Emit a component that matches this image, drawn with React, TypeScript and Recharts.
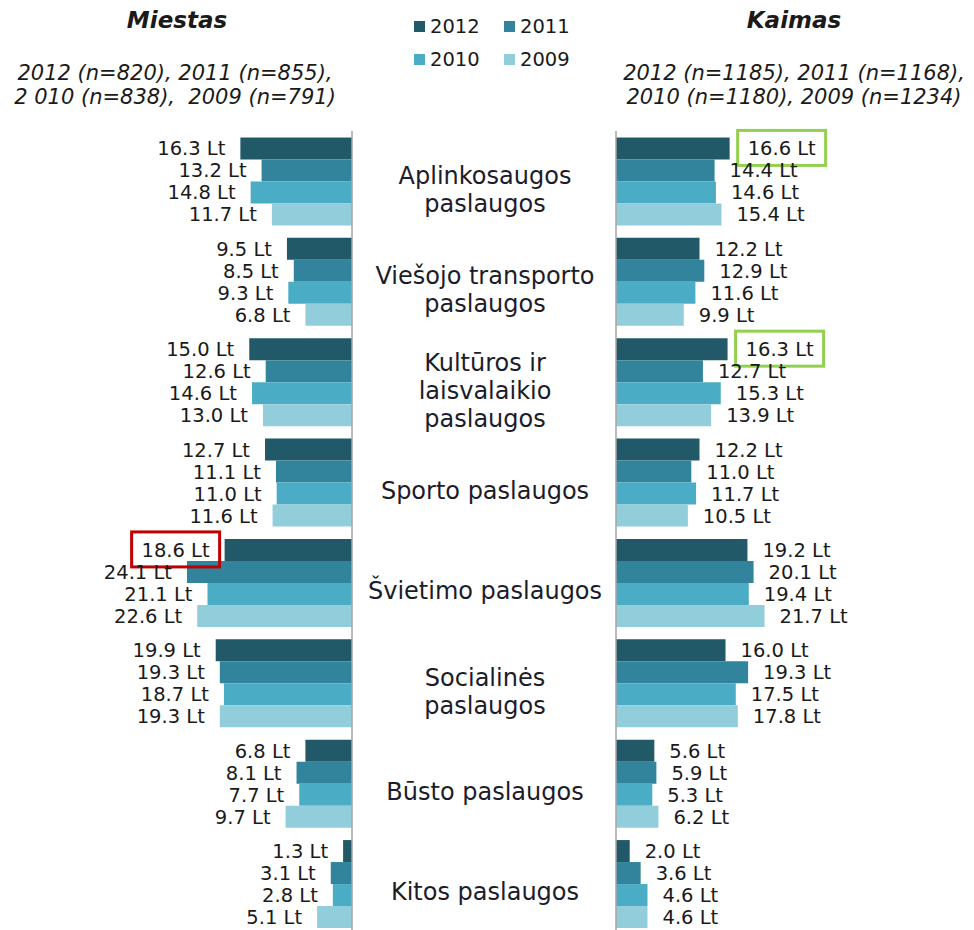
import { BarChart, Bar, XAxis, YAxis, LabelList, ReferenceLine } from 'recharts';

const categories = [
  'Aplinkosaugos\npaslaugos',
  'Viešojo transporto\npaslaugos',
  'Kultūros ir\nlaisvalaikio\npaslaugos',
  'Sporto paslaugos',
  'Švietimo paslaugos',
  'Socialinės\npaslaugos',
  'Būsto paslaugos',
  'Kitos paslaugos',
];
const years = ['2012', '2011', '2010', '2009'];
const colors = ['#215968', '#31849B', '#4BACC6', '#92CDDC'];

// Miestas
const miestas2012 = [16.3, 9.5, 15.0, 12.7, 18.6, 19.9, 6.8, 1.3];
const miestas2011 = [13.2, 8.5, 12.6, 11.1, 24.1, 19.3, 8.1, 3.1];
const miestas2010 = [14.8, 9.3, 14.6, 11.0, 21.1, 18.7, 7.7, 2.8];
const miestas2009 = [11.7, 6.8, 13.0, 11.6, 22.6, 19.3, 9.7, 5.1];

// Kaimas
const kaimas2012 = [16.6, 12.2, 16.3, 12.2, 19.2, 16.0, 5.6, 2.0];
const kaimas2011 = [14.4, 12.9, 12.7, 11.0, 20.1, 19.3, 5.9, 3.6];
const kaimas2010 = [14.6, 11.6, 15.3, 11.7, 19.4, 17.5, 5.3, 4.6];
const kaimas2009 = [15.4, 9.9, 13.9, 10.5, 21.7, 17.8, 6.2, 4.6];

// labels with a frame around them
const miestasBoxed = [{ year: '2012', index: 4, color: '#C00000' }];
const kaimasBoxed = [
  { year: '2012', index: 0, color: '#92D050' },
  { year: '2012', index: 2, color: '#92D050' },
];

const miestasData = categories.map((name, i) => ({
  name,
  '2012': miestas2012[i],
  '2011': miestas2011[i],
  '2010': miestas2010[i],
  '2009': miestas2009[i],
}));
const kaimasData = categories.map((name, i) => ({
  name,
  '2012': kaimas2012[i],
  '2011': kaimas2011[i],
  '2010': kaimas2010[i],
  '2009': kaimas2009[i],
}));

const FONT = '"DejaVu Sans", Verdana, sans-serif';

const makeLabel = (side: 'left' | 'right', year: string, boxed: any[]) => (props: any) => {
  const { x, y, width, height, value, index } = props;
  const left = Math.min(x, x + width);
  const right = Math.max(x, x + width);
  const box = boxed.find((b) => b.year === year && b.index === index);
  const gap = box && side === 'right' ? 18 : 15;
  const cy = y + height / 2;
  const tx = side === 'left' ? left - gap : right + gap;
  return (
    <g>
      {box && (
        <rect
          x={side === 'left' ? tx - 78 : tx - 10}
          y={cy - 18}
          width={88}
          height={35}
          fill="none"
          stroke={box.color}
          strokeWidth={3}
        />
      )}
      <text
        x={tx}
        y={cy}
        dy="0.36em"
        textAnchor={side === 'left' ? 'end' : 'start'}
        fontSize={19.5}
        fontFamily={FONT}
        fill="#1a1a1a"
      >
        {`${Number(value).toFixed(1)} Lt`}
      </text>
    </g>
  );
};

const CategoryTick = (props: any) => {
  const { x, y, payload } = props;
  const lines = String(payload.value).split('\n');
  const cx = x + 133;
  const lh = 28;
  const top = y + 8 - ((lines.length - 1) * lh) / 2;
  return (
    <text x={cx} textAnchor="middle" fontSize={24} fontFamily={FONT} fill="#1c1c2a">
      {lines.map((l, i) => (
        <tspan key={i} x={cx} y={top + i * lh} dy="0.36em">
          {l}
        </tspan>
      ))}
    </text>
  );
};

export default function App() {
  return (
    <div
      style={{
        position: 'absolute',
        left: 0,
        top: 0,
        width: 974,
        height: 930,
        overflow: 'hidden',
        background: '#fff',
        fontFamily: FONT,
        color: '#1a1a1a',
      }}
    >
      <div style={{ position: 'absolute', left: 0, top: 6, width: 354, textAlign: 'center', fontSize: 23, lineHeight: '28px', fontWeight: 'bold', fontStyle: 'italic' }}>
        Miestas
      </div>
      <div style={{ position: 'absolute', left: 614, top: 6, width: 360, textAlign: 'center', fontSize: 23, lineHeight: '28px', fontWeight: 'bold', fontStyle: 'italic' }}>
        Kaimas
      </div>
      <div style={{ position: 'absolute', left: 0, top: 61, width: 350, textAlign: 'center', fontSize: 21, lineHeight: '24px', fontStyle: 'italic', whiteSpace: 'pre' }}>
        {'2012 (n=820), 2011 (n=855),\n2 010 (n=838),  2009 (n=791)'}
      </div>
      <div style={{ position: 'absolute', left: 614, top: 61, width: 360, textAlign: 'center', fontSize: 21, lineHeight: '24px', fontStyle: 'italic', whiteSpace: 'pre' }}>
        {'2012 (n=1185), 2011 (n=1168),\n2010 (n=1180), 2009 (n=1234)'}
      </div>

      {years.map((yr, i) => (
        <div
          key={yr}
          style={{
            position: 'absolute',
            left: 414 + (i % 2) * 90,
            top: 26 + Math.floor(i / 2) * 33 - 12,
            height: 24,
            display: 'flex',
            alignItems: 'center',
            fontSize: 19.5,
          }}
        >
          <div style={{ width: 11, height: 11, background: colors[i], marginRight: 5 }} />
          <span>{yr}</span>
        </div>
      ))}

      <div style={{ position: 'absolute', left: 0, top: 0 }}>
        <BarChart
          width={616}
          height={934}
          data={miestasData}
          layout="vertical"
          margin={{ top: 131, right: 0, bottom: 0, left: 0 }}
          barCategoryGap="6.4%"
          barGap={0}
        >
          <XAxis type="number" hide reversed domain={[0, 51.4]} />
          <YAxis
            type="category"
            dataKey="name"
            orientation="right"
            width={264}
            axisLine={{ stroke: '#a6a6a6', strokeWidth: 1.5 }}
            tickLine={false}
            tickSize={0}
            tickMargin={0}
            interval={0}
            tick={(p: any) => <CategoryTick {...p} />}
          />
          {years.map((yr, i) => (
            <Bar key={yr} dataKey={yr} fill={colors[i]} isAnimationActive={false}>
              <LabelList dataKey={yr} content={makeLabel('left', yr, miestasBoxed)} />
            </Bar>
          ))}
        </BarChart>
      </div>

      <div style={{ position: 'absolute', left: 612, top: 0 }}>
        <BarChart
          width={362}
          height={934}
          data={kaimasData}
          layout="vertical"
          margin={{ top: 131, right: 0, bottom: 0, left: 4 }}
          barCategoryGap="6.4%"
          barGap={0}
        >
          <XAxis type="number" hide domain={[0, 52.3]} />
          <YAxis type="category" dataKey="name" hide />
          {years.map((yr, i) => (
            <Bar key={yr} dataKey={yr} fill={colors[i]} isAnimationActive={false}>
              <LabelList dataKey={yr} content={makeLabel('right', yr, kaimasBoxed)} />
            </Bar>
          ))}
          <ReferenceLine x={0} stroke="#a6a6a6" strokeWidth={1.5} />
        </BarChart>
      </div>
    </div>
  );
}
